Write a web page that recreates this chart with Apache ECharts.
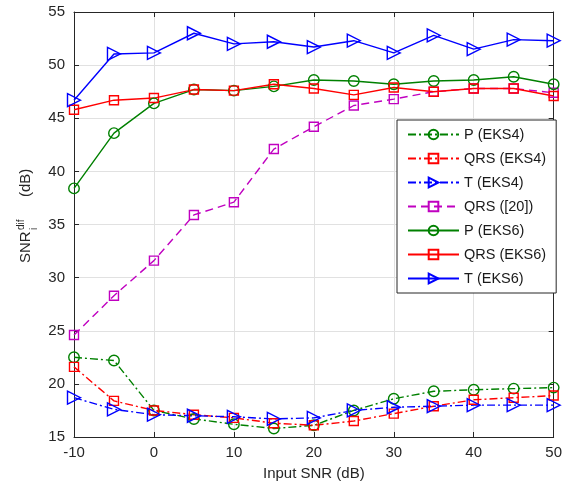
<!DOCTYPE html>
<html>
<head>
<meta charset="utf-8">
<script src="https://cdn.jsdelivr.net/npm/echarts@6/dist/echarts.min.js"></script>
<style>
html,body{margin:0;padding:0;background:#fff;}
#chart{width:565px;height:486px;}
</style>
</head>
<body>
<div id="chart"></div>
<script>
var inputSNR = [-10, -5, 0, 5, 10, 15, 20, 25, 30, 35, 40, 45, 50];
var P_EKS4   = [22.5, 22.2, 17.5, 16.7, 16.2, 15.8, 16.1, 17.5, 18.6, 19.3, 19.45, 19.55, 19.65];
var QRS_EKS4 = [21.6, 18.4, 17.5, 17.1, 16.8, 16.3, 16.1, 16.5, 17.2, 17.9, 18.5, 18.7, 18.9];
var T_EKS4   = [18.7, 17.6, 17.1, 17.0, 16.9, 16.7, 16.8, 17.5, 17.8, 17.9, 18.0, 18.0, 18.0];
var QRS_20   = [24.6, 28.3, 31.6, 35.9, 37.1, 42.1, 44.2, 46.2, 46.8, 47.5, 47.8, 47.8, 47.4];
var P_EKS6   = [38.4, 43.6, 46.4, 47.7, 47.6, 48.0, 48.6, 48.5, 48.2, 48.5, 48.6, 48.9, 48.2];
var QRS_EKS6 = [45.8, 46.7, 46.9, 47.7, 47.6, 48.2, 47.8, 47.2, 47.9, 47.5, 47.8, 47.8, 47.1];
var T_EKS6   = [46.7, 51.05, 51.15, 53.0, 52.0, 52.2, 51.7, 52.3, 51.15, 52.8, 51.5, 52.4, 52.3];
var seriesNames = ['P (EKS4)', 'QRS (EKS4)', 'T (EKS4)', 'QRS ([20])', 'P (EKS6)', 'QRS (EKS6)', 'T (EKS6)'];

var GREEN = '#008000', RED = '#ff0000', BLUE = '#0000ff', MAG = '#c000c0';
var DASHDOT = [8, 3, 2, 3], DASH = [8, 5];
var FONT = '"Liberation Sans", Arial, Helvetica, sans-serif';

function pts(arr) { return inputSNR.map(function (x, i) { return [x, arr[i]]; }); }
function mk(name, arr, color, dash, symbol) {
  var s = {
    name: name, type: 'line', data: pts(arr), xAxisIndex: 0, yAxisIndex: 0,
    lineStyle: { color: color, width: 1.4, type: dash },
    itemStyle: { color: 'rgba(255,255,255,0)', borderColor: color, borderWidth: 1.4 },
    symbolKeepAspect: true, z: 3, animation: false
  };
  if (symbol === 'c') { s.symbol = 'circle'; s.symbolSize = 10.5; }
  else if (symbol === 's') { s.symbol = 'rect'; s.symbolSize = 9; }
  else { s.symbol = 'triangle'; s.symbolSize = 13; s.symbolRotate = -90; }
  return s;
}

var chart = echarts.init(document.getElementById('chart'), null, { renderer: 'canvas' });
var axisColor = '#262626';
chart.setOption({
  backgroundColor: '#fff',
  animation: false,
  textStyle: { fontFamily: FONT },
  grid: { left: 74, right: 7, top: 12, bottom: 48, containLabel: false },
  xAxis: [{
    type: 'value', min: -10, max: 50, interval: 10, position: 'bottom',
    name: 'Input SNR (dB)', nameLocation: 'middle', nameGap: 29,
    nameTextStyle: { fontSize: 15, color: axisColor, fontFamily: FONT },
    axisLine: { onZero: false, lineStyle: { color: axisColor, width: 1 } },
    axisTick: { inside: true, length: 5, lineStyle: { color: axisColor } },
    axisLabel: { fontSize: 15, color: axisColor, margin: 8, fontFamily: FONT },
    splitLine: { show: true, lineStyle: { color: '#e1e1e1', width: 1 } }
  }, {
    type: 'value', min: -10, max: 50, interval: 10, position: 'top',
    axisLine: { show: true, onZero: false, lineStyle: { color: axisColor, width: 1 } },
    axisTick: { inside: true, length: 5, lineStyle: { color: axisColor } },
    axisLabel: { show: false }, splitLine: { show: false }
  }],
  yAxis: [{
    type: 'value', min: 15, max: 55, interval: 5, position: 'left',
    axisLine: { show: true, onZero: false, lineStyle: { color: axisColor, width: 1 } },
    axisTick: { show: true, inside: true, length: 5, lineStyle: { color: axisColor } },
    axisLabel: { fontSize: 15, color: axisColor, margin: 9, fontFamily: FONT },
    splitLine: { show: true, lineStyle: { color: '#e1e1e1', width: 1 } }
  }, {
    type: 'value', min: 15, max: 55, interval: 5, position: 'right',
    axisLine: { show: true, onZero: false, lineStyle: { color: axisColor, width: 1 } },
    axisTick: { show: true, inside: true, length: 5, lineStyle: { color: axisColor } },
    axisLabel: { show: false }, splitLine: { show: false }
  }],
  legend: {
    data: seriesNames,
    orient: 'vertical', left: 397, top: 120,
    padding: [7, 10, 7, 10],
    itemWidth: 51, itemHeight: 12, itemGap: 9,
    backgroundColor: '#fff', borderColor: axisColor, borderWidth: 1, borderRadius: 0,
    textStyle: { fontSize: 14.5, color: '#1a1a1a', fontFamily: FONT },
    selectedMode: false
  },
  graphic: [
    { type: 'text', rotation: Math.PI / 2, x: 26, y: 263, style: { text: 'SNR', font: '15px ' + FONT, fill: axisColor, align: 'left', verticalAlign: 'middle' } },
    { type: 'text', rotation: Math.PI / 2, x: 21, y: 230, style: { text: 'dif', font: '10px ' + FONT, fill: axisColor, align: 'left', verticalAlign: 'middle' } },
    { type: 'text', rotation: Math.PI / 2, x: 34, y: 230, style: { text: 'i', font: '10px ' + FONT, fill: axisColor, align: 'left', verticalAlign: 'middle' } },
    { type: 'text', rotation: Math.PI / 2, x: 26, y: 197, style: { text: '(dB)', font: '15px ' + FONT, fill: axisColor, align: 'left', verticalAlign: 'middle' } }
  ],
  series: [
    mk(seriesNames[0], P_EKS4, GREEN, DASHDOT, 'c'),
    mk(seriesNames[1], QRS_EKS4, RED, DASHDOT, 's'),
    mk(seriesNames[2], T_EKS4, BLUE, DASHDOT, 't'),
    mk(seriesNames[3], QRS_20, MAG, DASH, 's'),
    mk(seriesNames[4], P_EKS6, GREEN, 'solid', 'c'),
    mk(seriesNames[5], QRS_EKS6, RED, 'solid', 's'),
    mk(seriesNames[6], T_EKS6, BLUE, 'solid', 't')
  ]
});
</script>
</body>
</html>
